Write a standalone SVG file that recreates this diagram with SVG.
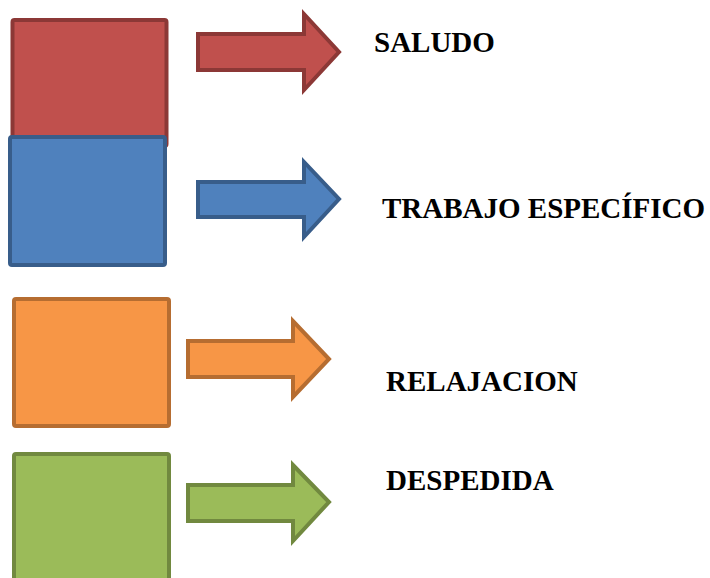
<svg xmlns="http://www.w3.org/2000/svg" width="710" height="578" viewBox="0 0 710 578">
<style>
.box{stroke-width:4;stroke-linejoin:round}
.arr{stroke-width:4;stroke-linejoin:miter}
.red{fill:#C0504D;stroke:#8C3836}
.blue{fill:#4F81BD;stroke:#385D8A}
.orange{fill:#F79646;stroke:#B66D31}
.green{fill:#9BBB59;stroke:#71893F}
.lbl{font-family:"Liberation Serif","Times New Roman",serif;font-weight:bold;font-size:29px;fill:#000}
</style>
<rect width="710" height="578" fill="#fff"/>
<g id="box-saludo"><rect class="box red" x="12.5" y="20" width="154" height="126" rx="2"/></g>
<g id="box-trabajo"><rect class="box blue" x="10" y="137" width="155" height="128" rx="2"/></g>
<g id="box-relajacion"><rect class="box orange" x="14" y="299" width="155" height="127" rx="2"/></g>
<g id="box-despedida"><rect class="box green" x="14" y="454" width="155" height="130" rx="2"/></g>
<g id="connectors">
<polygon class="arr red" points="198,34 304,34 304,14 339,52 304,90 304,70 198,70"/>
<polygon class="arr blue" points="198,182 304,182 304,162 339,199 304,237 304,217 198,217"/>
<polygon class="arr orange" points="188,341 293,341 293,321 329,359 293,397 293,377 188,377"/>
<polygon class="arr green" points="188,485 293,485 293,465 329,502 293,541 293,521 188,521"/>
</g>
<g id="label-saludo"><text class="lbl" x="374" y="52">SALUDO</text></g>
<g id="label-trabajo"><text class="lbl" x="382" y="218">TRABAJO ESPECÍFICO</text></g>
<g id="label-relajacion"><text class="lbl" x="386" y="391">RELAJACION</text></g>
<g id="label-despedida"><text class="lbl" x="386" y="490">DESPEDIDA</text></g>
</svg>
